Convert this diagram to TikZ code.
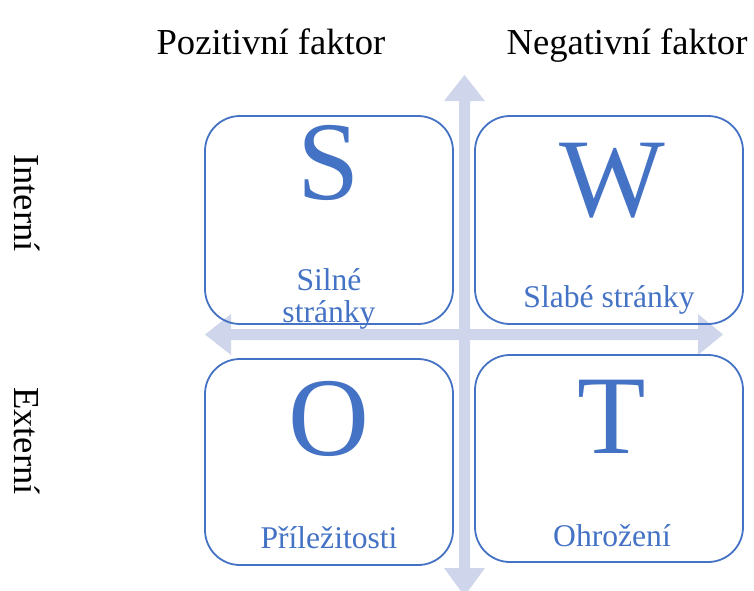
\documentclass[tikz,border=0pt]{standalone}
\usepackage{fontspec}
\setmainfont{Liberation Serif}
\definecolor{swotblue}{RGB}{68,114,196}
\definecolor{axisfill}{RGB}{207,213,234}
\begin{document}
\begin{tikzpicture}[x=1pt,y=-1pt,
  quad/.style={draw=swotblue, line width=1.8pt, rounded corners=35pt, inner sep=0pt},
  letter/.style={text=swotblue, font=\fontsize{112}{112}\selectfont, anchor=base, inner sep=0pt},
  caption/.style={text=swotblue, font=\fontsize{31.6}{32}\selectfont, anchor=base, inner sep=0pt, align=center},
  heading/.style={font=\fontsize{36.6}{40}\selectfont, anchor=base, inner sep=0pt},
  axis/.style={fill=axisfill, draw=none}]
\useasboundingbox (0,0) rectangle (754,590);

% axes: two double-headed block arrows
\fill[axis] (459,101) -- (444,101) -- (464.5,75) -- (485,101) -- (470,101)
  -- (470,568) -- (485,568) -- (464.5,596) -- (444,568) -- (459,568) -- cycle;
\fill[axis] (231,329) -- (231,314) -- (205,334.5) -- (231,355) -- (231,340)
  -- (698,340) -- (698,355) -- (723,334.5) -- (698,314) -- (698,329) -- cycle;

% quadrants
\node[quad, minimum width=248pt, minimum height=208pt] (qs) at (329,220) {};
\node[quad, minimum width=268pt, minimum height=208pt] (qw) at (609,220) {};
\node[quad, minimum width=248pt, minimum height=206pt] (qo) at (329,462) {};
\node[quad, minimum width=268pt, minimum height=207pt] (qt) at (609,458.5) {};

% quadrant letters
\node[letter] (ls) at (329,199) {S};
\node[letter] (lw) at (612,216) {W};
\node[letter] (lo) at (329,455) {O};
\node[letter] (lt) at (612,453) {T};

% quadrant captions
\node[caption] (cs1) at (329,290) {Silné};
\node[caption] (cs2) at (329,322) {stránky};
\node[caption] (cw) at (609,307) {Slabé stránky};
\node[caption] (co) at (329,548) {Příležitosti};
\node[caption] (ct) at (612,546) {Ohrožení};

% column and row headings
\node[heading] (hp) at (271,54) {Pozitivní faktor};
\node[heading] (hn) at (627,54) {Negativní faktor};
\node[heading, rotate=-90, anchor=center] (hi) at (27,203) {Interní};
\node[heading, rotate=-90, anchor=center] (he) at (27,441) {Externí};
\end{tikzpicture}
\end{document}
